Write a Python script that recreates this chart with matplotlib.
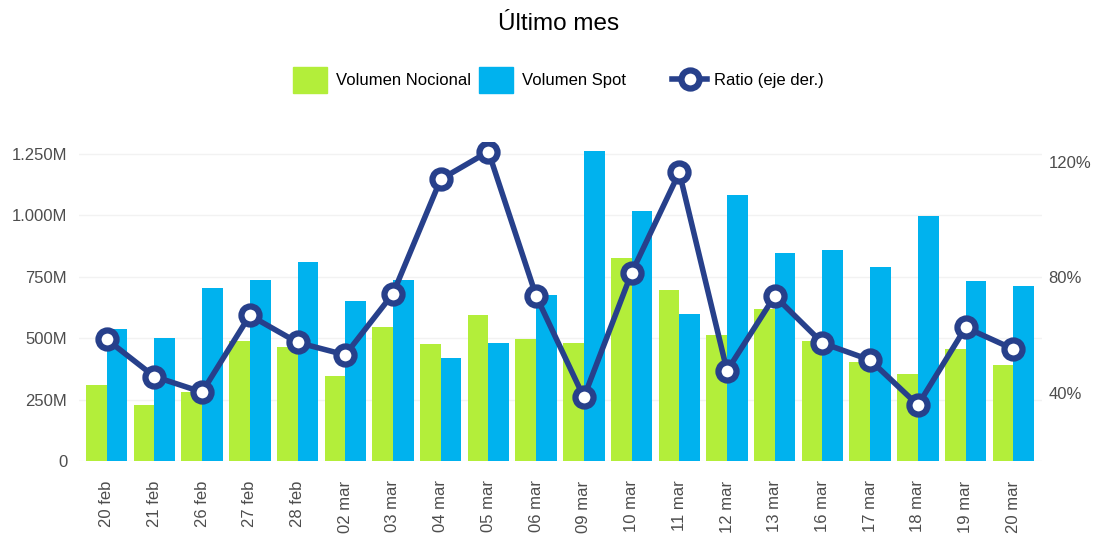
import matplotlib
matplotlib.use('Agg')
import matplotlib.pyplot as plt
import numpy as np
from matplotlib.ticker import FuncFormatter
from matplotlib.patches import Patch
from matplotlib.lines import Line2D

plt.rcParams['font.family'] = ['Liberation Sans', 'DejaVu Sans']

# data (volumes in millions, ratio as fraction)
dias = ['20 feb', '21 feb', '26 feb', '27 feb', '28 feb', '02 mar', '03 mar', '04 mar',
        '05 mar', '06 mar', '09 mar', '10 mar', '11 mar', '12 mar', '13 mar', '16 mar',
        '17 mar', '18 mar', '19 mar', '20 mar']
nocional = [311, 228, 282, 490, 464, 346, 546, 475, 593, 495,
            482, 827, 696, 513, 619, 490, 404, 354, 456, 392]
spot = [537, 501, 704, 736, 811, 651, 737, 418, 482, 676,
        1263, 1017, 600, 1083, 846, 860, 790, 996, 732, 714]
ratio = [0.585, 0.456, 0.402, 0.668, 0.574, 0.531, 0.743, 1.139, 1.235, 0.735,
         0.384, 0.815, 1.163, 0.476, 0.735, 0.572, 0.513, 0.357, 0.626, 0.551]

verde = '#B3EE3A'
azul = '#00B2EE'
azul_osc = '#27408B'
gris = '#4D4D4D'

fig = plt.figure(figsize=(10.95, 5.41), dpi=100)
ax = fig.add_axes([0.0721, 0.1479, 0.8795, 0.590])
ax2 = ax.twinx()

x = np.arange(len(dias))
w = 0.434
ax.bar(x - w / 2, nocional, width=w, color=verde, zorder=2)
ax.bar(x + w / 2, spot, width=w, color=azul, zorder=2)

ax2.plot(x, ratio, color=azul_osc, lw=4, marker='o', ms=13, mew=4.5,
         mfc='white', mec=azul_osc, zorder=3)

ax.set_xlim(-0.58, 19.6)
ax.set_ylim(0, 1300)
ax.set_yticks([0, 250, 500, 750, 1000, 1250])
ax.yaxis.set_major_formatter(FuncFormatter(
    lambda v, p: '0' if v == 0 else '{:,.0f}M'.format(v).replace(',', '.')))
ax.grid(axis='y', color='#F2F2F2', lw=1, zorder=0)
ax.set_axisbelow(True)

ax2.set_ylim(0.1635, 1.269)
ax2.set_yticks([0.4, 0.8, 1.2])
ax2.yaxis.set_major_formatter(FuncFormatter(lambda v, p: '{:.0f}%'.format(v * 100)))

ax.set_xticks(x)
ax.set_xticklabels(dias, rotation=90)

for a in (ax, ax2):
    for s in a.spines.values():
        s.set_visible(False)
ax.tick_params(axis='x', length=0, pad=14, labelsize=12, labelcolor=gris)
ax.tick_params(axis='y', length=0, pad=8.5, labelsize=12, labelcolor=gris)
ax2.tick_params(axis='y', length=0, pad=4.5, labelsize=12, labelcolor=gris)

ax2.set_zorder(ax.get_zorder() + 1)
ax2.patch.set_visible(False)

fig.text(0.51, 0.955, 'Último mes', ha='center', va='center', fontsize=17.5, color='black')

h1 = [Patch(color=verde), Patch(color=azul)]
fig.legend(h1, ['Volumen Nocional', 'Volumen Spot'], loc='center left',
           bbox_to_anchor=(293 / 1095, 1 - 80 / 541), ncol=2, frameon=False,
           fontsize=12, handlelength=2.04, handleheight=2.1, handletextpad=0.54,
           columnspacing=0.48, borderpad=0, borderaxespad=0)
h2 = [Line2D([0], [0], color=azul_osc, lw=4, marker='o', ms=13, mew=4.5,
             mfc='white', mec=azul_osc)]
fig.legend(h2, ['Ratio (eje der.)'], loc='center left',
           bbox_to_anchor=(672 / 1095, 1 - 80 / 541), frameon=False,
           fontsize=12, handlelength=2.1, handletextpad=0.42,
           borderpad=0, borderaxespad=0)

fig.savefig('out.png', dpi=100)
